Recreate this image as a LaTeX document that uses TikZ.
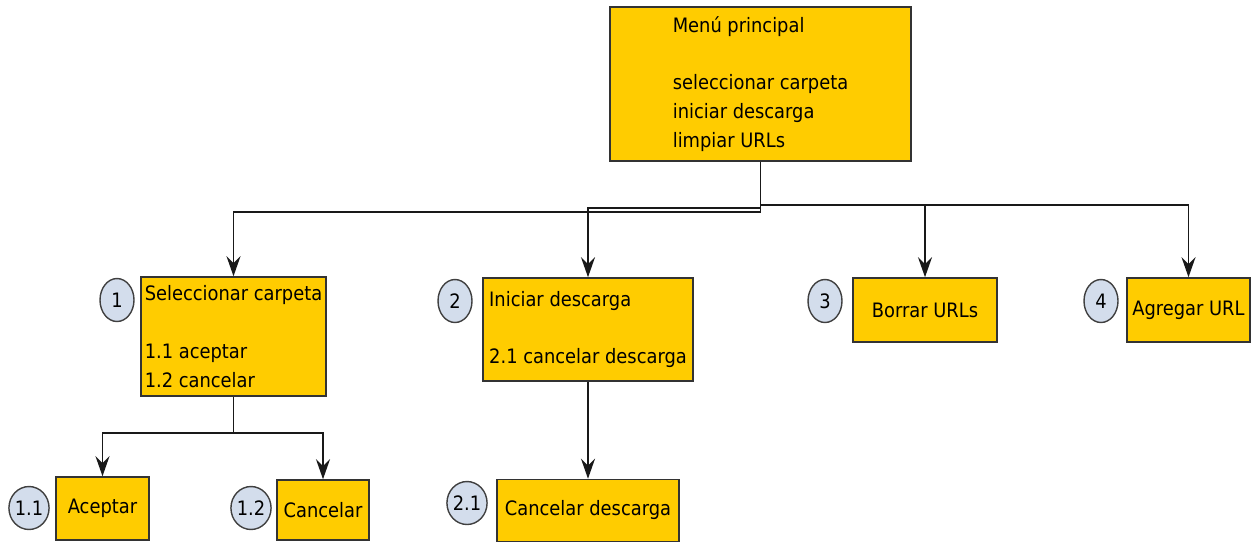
\documentclass[tikz,border=0pt]{standalone}
\usepackage{fontspec}
\setmainfont{DejaVu Sans Condensed}
\usetikzlibrary{arrows.meta}
\usetikzlibrary{shapes.geometric}

\definecolor{boxfill}{HTML}{FFCC00}
\definecolor{numfill}{HTML}{D3DDEC}

\tikzset{
  box/.style={draw=black!80, fill=boxfill, line width=0.9pt, align=left,
    inner sep=2pt, font=\fontsize{11.3}{16.4}\selectfont},
  num/.style={ellipse, draw=black!75, fill=numfill, line width=0.8pt,
    minimum width=0.68cm, minimum height=0.86cm, inner sep=0pt,
    font=\fontsize{11.3}{13}\selectfont},
  arr/.style={-{Stealth[length=4mm,width=2.8mm,inset=1.4mm]}, line width=0.9pt, black!90},
}

\begin{document}
\begin{tikzpicture}[x=0.02cm,y=-0.02cm]
  \useasboundingbox (0,0) rectangle (1253,542);

  % menu
  \node[box, minimum width=6.02cm, minimum height=3.08cm] (menu) at (760.5,84)
    {Menú principal\\[16.4pt]seleccionar carpeta\\iniciar descarga\\limpiar URLs};

  % first level
  \node[box, minimum width=3.66cm, minimum height=2.38cm] (sel) at (233.5,336.5)
    {Seleccionar carpeta\\[16.4pt]1.1 aceptar\\1.2 cancelar};
  \node[box, minimum width=4.2cm, minimum height=2.06cm] (ini) at (588,329.5)
    {Iniciar descarga\\[16.4pt]2.1 cancelar descarga};
  \node[box, minimum width=2.88cm, minimum height=1.28cm] (bor) at (925,310) {Borrar URLs};
  \node[box, minimum width=2.46cm, minimum height=1.28cm] (agr) at (1188.5,310) {Agregar URL};

  % second level
  \node[box, minimum width=1.86cm, minimum height=1.26cm] (acep) at (102.5,508.5) {Aceptar};
  \node[box, minimum width=1.84cm, minimum height=1.2cm] (canc) at (323,510) {Cancelar};
  \node[box, minimum width=3.64cm, minimum height=1.24cm] (cdes) at (588,510.5) {Cancelar descarga};

  % numbers
  \node[num] (n1) at (117,300) {1};
  \node[num] (n2) at (455,301) {2};
  \node[num] (n3) at (825,301) {3};
  \node[num] (n4) at (1101,301) {4};
  \node[num] (n11) at (29,508) {1.1};
  \node[num] (n12) at (251,508) {1.2};
  \node[num] (n21) at (467,503) {2.1};

  \draw[arr] (menu.south) -- ++(0,50) -| (sel.north);
  \draw[arr] (menu.south) -- ++(0,46) -| (ini.north);
  \draw[arr] (menu.south) -- ++(0,43) -| (bor.north);
  \draw[arr] (menu.south) -- ++(0,43) -| (agr.north);

  \draw[arr] (sel.south) -- ++(0,36) -| (acep.north);
  \draw[arr] (sel.south) -- ++(0,36) -| (canc.north);
  \draw[arr] (ini.south) -- (cdes.north);
\end{tikzpicture}
\end{document}
